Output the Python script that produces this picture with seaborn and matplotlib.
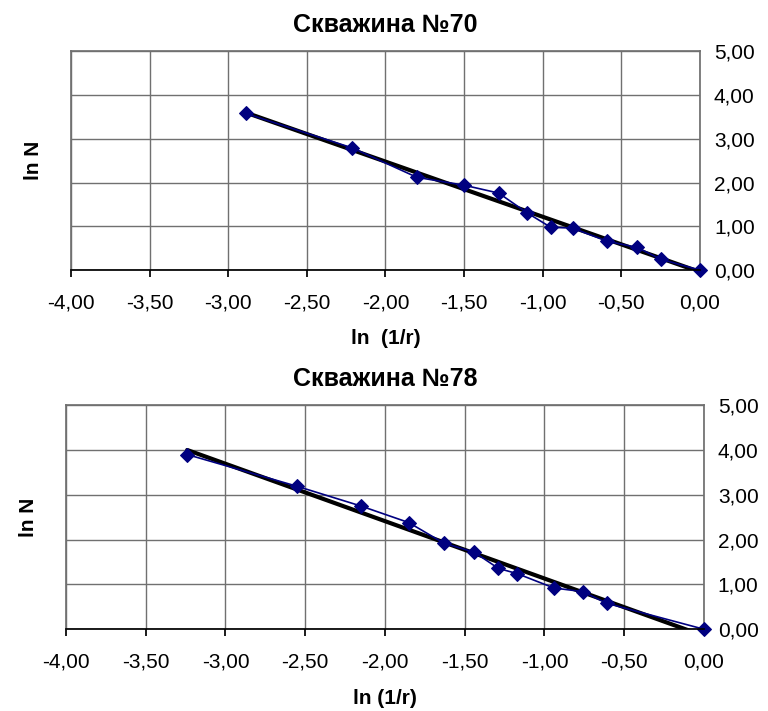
import numpy as np
import pandas as pd
import matplotlib
matplotlib.use("Agg")
import matplotlib.pyplot as plt
from matplotlib.ticker import FuncFormatter
import seaborn as sns

# Скважина №70
x70 = [-2.89, -2.21, -1.80, -1.50, -1.28, -1.10, -0.95, -0.81, -0.59, -0.40, -0.25, 0.00]
y70 = [3.58, 2.79, 2.12, 1.94, 1.76, 1.31, 0.98, 0.96, 0.66, 0.52, 0.25, 0.00]

# Скважина №78
x78 = [-3.24, -2.55, -2.15, -1.85, -1.63, -1.44, -1.29, -1.17, -0.94, -0.76, -0.61, 0.00]
y78 = [3.90, 3.19, 2.75, 2.38, 1.92, 1.72, 1.36, 1.24, 0.92, 0.84, 0.58, 0.00]

titles = ["Скважина №70", "Скважина №78"]
xlabels = ["ln  (1/r)", "ln (1/r)"]
xticks = [-4.0, -3.5, -3.0, -2.5, -2.0, -1.5, -1.0, -0.5, 0.0]
yticks = [0.0, 1.0, 2.0, 3.0, 4.0, 5.0]

sns.set_theme(style="whitegrid", rc={"grid.color": "#707070", "grid.linewidth": 1.0,
                                     "axes.edgecolor": "#707070", "text.color": "black",
                                     "axes.labelcolor": "black"})
plt.rcParams['font.family'] = ['Liberation Sans', 'DejaVu Sans']

fig = plt.figure(figsize=(7.68, 7.11), dpi=100)
ax1 = fig.add_axes([0.0924, 0.620, 0.8191, 0.308])
ax2 = fig.add_axes([0.0859, 0.115, 0.8307, 0.315])

comma = FuncFormatter(lambda v, p: "{:.2f}".format(v).replace(".", ","))

for ax, xs, ys, title, xl in [(ax1, x70, y70, titles[0], xlabels[0]),
                              (ax2, x78, y78, titles[1], xlabels[1])]:
    df = pd.DataFrame({"x": xs, "y": ys})
    sns.lineplot(data=df, x="x", y="y", sort=False, ax=ax, color="#000080",
                 marker="D", markersize=7, markeredgecolor="#000080", linewidth=1.2,
                 clip_on=False, zorder=4)
    sns.regplot(data=df, x="x", y="y", ax=ax, scatter=False, ci=None, truncate=True,
                color="black", line_kws={"linewidth": 3, "zorder": 3})
    ax.set_xlim(-4, 0)
    ax.set_ylim(0, 5)
    ax.set_xticks(xticks)
    ax.set_yticks(yticks)
    ax.xaxis.set_major_formatter(comma)
    ax.yaxis.set_major_formatter(comma)
    ax.yaxis.tick_right()
    ax.tick_params(axis="x", bottom=True, length=5, color="black", labelsize=15,
                   pad=12, labelcolor="black")
    ax.tick_params(axis="y", right=False, length=0, labelsize=15, pad=10,
                   labelcolor="black")
    ax.spines["bottom"].set_color("black")
    ax.spines["bottom"].set_zorder(5)
    ax.set_title(title, fontsize=18, fontweight="bold", pad=14, color="black")
    ax.set_xlabel(xl, fontsize=15, fontweight="bold", labelpad=12)
    ax.set_ylabel("ln N", fontsize=15, fontweight="bold", labelpad=20)

fig.savefig("out.png", dpi=100, facecolor="white")
